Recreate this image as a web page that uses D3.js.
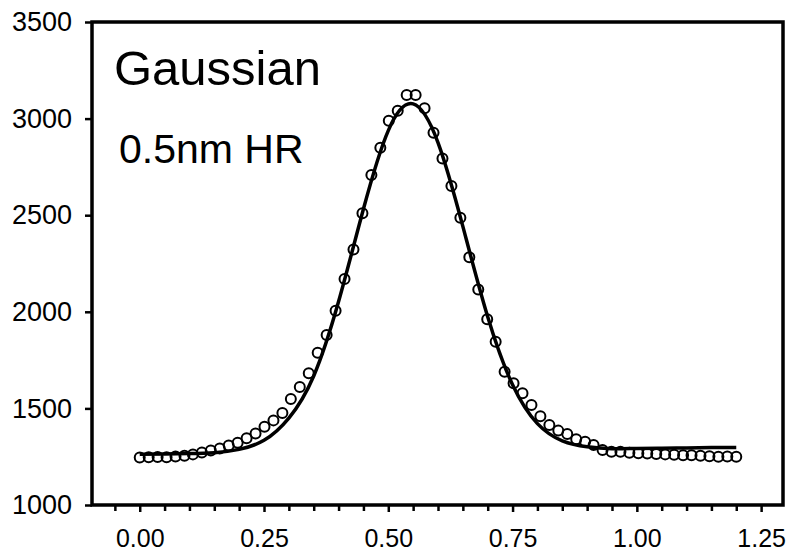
<!DOCTYPE html>
<meta charset="utf-8">
<style>
    body {
        margin: 0;
        background-color: #fff;
    }

    svg {
        font-family: "Liberation Sans", Arial, sans-serif;
    }

    .axis path {
        display: none;
    }

    .axis line {
        stroke: black;
        stroke-width: 2.5;
    }

    .axis text {
        fill: black;
    }
</style>
<body>
<script src="https://cdn.jsdelivr.net/npm/d3@7"></script>
<script>

    // measured points (open circles)
    const pointX = [
        0.000, 0.018, 0.036, 0.054, 0.072, 0.090, 0.107, 0.125, 0.143, 0.161,
        0.179, 0.197, 0.215, 0.233, 0.251, 0.269, 0.287, 0.304, 0.322, 0.340,
        0.358, 0.376, 0.394, 0.412, 0.430, 0.448, 0.466, 0.484, 0.501, 0.519,
        0.537, 0.555, 0.573, 0.591, 0.609, 0.627, 0.645, 0.663, 0.681, 0.699,
        0.716, 0.734, 0.752, 0.770, 0.788, 0.806, 0.824, 0.842, 0.860, 0.878,
        0.896, 0.913, 0.931, 0.949, 0.967, 0.985, 1.003, 1.021, 1.039, 1.057,
        1.075, 1.093, 1.110, 1.128, 1.146, 1.164, 1.182, 1.200
    ];
    const pointY = [
        1246, 1247, 1248, 1247, 1251, 1255, 1262, 1272, 1282, 1293,
        1308, 1322, 1345, 1370, 1405, 1438, 1476, 1549, 1611, 1682,
        1788, 1880, 2006, 2170, 2323, 2510, 2708, 2849, 2989, 3041,
        3122, 3122, 3053, 2927, 2794, 2651, 2487, 2282, 2116, 1961,
        1845, 1690, 1630, 1578, 1518, 1459, 1414, 1385, 1367, 1340,
        1328, 1311, 1285, 1276, 1276, 1271, 1268, 1266, 1264, 1262,
        1260, 1258, 1257, 1255, 1252, 1250, 1251, 1250
    ];

    // fitted gaussian curve
    const fitX = [0.00, 0.05, 0.10, 0.15, 0.20, 0.25, 0.30, 0.35, 0.40, 0.45, 0.50, 0.55,
        0.60, 0.65, 0.70, 0.75, 0.80, 0.85, 0.90, 0.95, 1.00, 1.05, 1.10, 1.15, 1.20];
    const fitY = [1262, 1264, 1266, 1271, 1288, 1335, 1450, 1668, 2053, 2532, 2938, 3076,
        2876, 2442, 1974, 1622, 1421, 1332, 1301, 1291, 1293, 1294, 1295, 1297, 1298];

    const xTicks = [0, 0.25, 0.5, 0.75, 1.0, 1.25];
    const xMinorTicks = [-0.05, 0.05, 0.10, 0.15, 0.20, 0.30, 0.35, 0.40, 0.45, 0.55, 0.60,
        0.65, 0.70, 0.80, 0.85, 0.90, 0.95, 1.05, 1.10, 1.15, 1.20];
    const yTicks = [1000, 1500, 2000, 2500, 3000, 3500];

    const width = 789;
    const height = 554;
    const plot = {left: 92, right: 783, top: 22, bottom: 505};

    const svg = d3.select('body')
        .append('svg')
        .attr('width', width)
        .attr('height', height);

    const x = d3.scaleLinear()
        .domain([-0.096, 1.294])
        .range([plot.left, plot.right]);

    const y = d3.scaleLinear()
        .domain([1000, 3500])
        .range([plot.bottom, plot.top]);

    // minor ticks on x (no labels)
    svg.append('g')
        .attr('class', 'axis')
        .attr('transform', 'translate(0,' + plot.bottom + ')')
        .call(d3.axisBottom(x).tickValues(xMinorTicks).tickSize(6).tickFormat(''));

    // major x ticks
    svg.append('g')
        .attr('class', 'axis')
        .attr('transform', 'translate(0,' + plot.bottom + ')')
        .call(d3.axisBottom(x).tickValues(xTicks).tickSize(7).tickPadding(17)
            .tickFormat(d3.format('.2f')))
        .selectAll('text')
        .style('font-size', '25px');

    // y ticks
    svg.append('g')
        .attr('class', 'axis')
        .attr('transform', 'translate(' + plot.left + ',0)')
        .call(d3.axisLeft(y).tickValues(yTicks).tickSize(7).tickPadding(13)
            .tickFormat(d3.format('d')))
        .selectAll('text')
        .style('font-size', '27px');

    // frame
    svg.append('rect')
        .attr('x', plot.left)
        .attr('y', plot.top)
        .attr('width', plot.right - plot.left)
        .attr('height', plot.bottom - plot.top)
        .style('fill', 'none')
        .style('stroke', 'black')
        .style('stroke-width', 3.5);

    // fitted line
    const line = d3.line()
        .x((d, i) => x(fitX[i]))
        .y(d => y(d))
        .curve(d3.curveNatural);

    svg.append('path')
        .datum(fitY)
        .attr('d', line)
        .style('fill', 'none')
        .style('stroke', 'black')
        .style('stroke-width', 3.5);

    // data circles
    svg.selectAll('.dot')
        .data(pointY)
        .enter().append('circle')
        .attr('class', 'dot')
        .attr('cx', (d, i) => x(pointX[i]))
        .attr('cy', d => y(d))
        .attr('r', 5)
        .style('fill', 'none')
        .style('stroke', 'black')
        .style('stroke-width', 2);

    // labels
    svg.append('text')
        .attr('x', 114)
        .attr('y', 85)
        .style('font-size', '49px')
        .text('Gaussian');

    svg.append('text')
        .attr('x', 119)
        .attr('y', 163)
        .style('font-size', '41px')
        .text('0.5nm HR');

</script>
</body>
</html>
